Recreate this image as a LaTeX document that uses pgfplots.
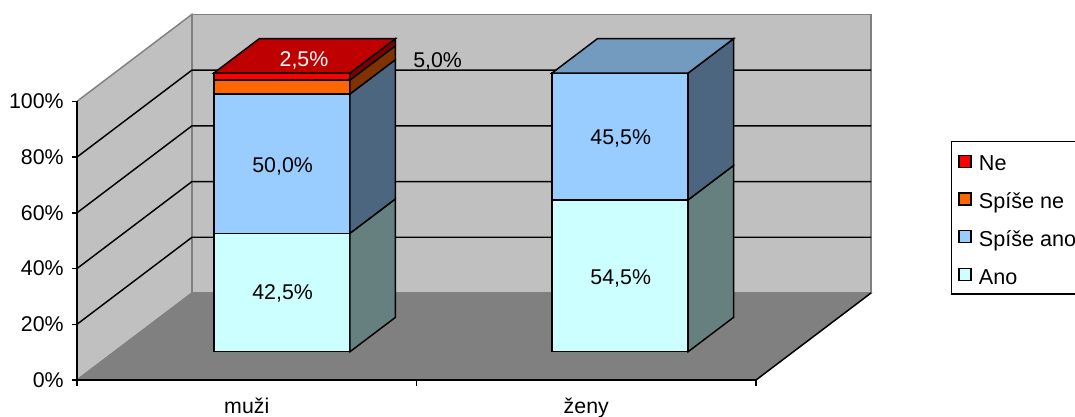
\documentclass[border=0pt]{standalone}
\usepackage{pgfplots}
\pgfplotsset{compat=1.18}
\usepackage{fontspec}
\setmainfont{Liberation Sans}

\definecolor{wall}{HTML}{C0C0C0}
\definecolor{floorc}{HTML}{808080}
\definecolor{anoF}{HTML}{CCFFFF}
\definecolor{anoS}{HTML}{668080}
\definecolor{sanoF}{HTML}{99CCFF}
\definecolor{sanoS}{HTML}{4D6680}
\definecolor{sanoT}{HTML}{739ABF}
\definecolor{sneF}{HTML}{FF6600}
\definecolor{sneS}{HTML}{803300}
\definecolor{neF}{HTML}{FF0000}
\definecolor{neS}{HTML}{800000}
\definecolor{neT}{HTML}{BF0000}

% one stacked segment: x from, x to, z from, z to, front colour, side colour
\newcommand{\barseg}[6]{%
  \addplot3[forget plot,fill=#5,draw=black,line width=1.1pt,line join=miter] coordinates {(#1,0.325,#3)(#2,0.325,#3)(#2,0.325,#4)(#1,0.325,#4)} --cycle;
  \addplot3[forget plot,fill=#6,draw=black,line width=1.1pt,line join=miter] coordinates {(#2,0.325,#3)(#2,0.72,#3)(#2,0.72,#4)(#2,0.325,#4)} --cycle;
}
% lid of a stack: x from, x to, z, colour
\newcommand{\bartop}[4]{%
  \addplot3[forget plot,fill=#4,draw=black,line width=1.1pt,line join=miter] coordinates {(#1,0.325,#3)(#2,0.325,#3)(#2,0.72,#3)(#1,0.72,#3)} --cycle;
}
% gridline running along both walls
\newcommand{\gridz}[1]{%
  \addplot3[forget plot,black,line width=1.1pt] coordinates {(0,0,#1)(0,1,#1)(2,1,#1)};
}

\begin{document}
\begin{tikzpicture}
\path[use as bounding box] (0,0) rectangle (806.25pt,312.75pt);
\begin{axis}[
  at={(57.75pt,27.75pt)}, anchor=origin,
  x={(254.625pt,0pt)}, y={(86.25pt,65.25pt)}, z={(0pt,2.09pt)},
  xmin=0, xmax=2, ymin=0, ymax=1, zmin=0, zmax=100,
  clip=false,
  axis line style={draw=none},
  tick style={draw=none},
  major tick length=0pt,
  font=\fontsize{16pt}{18pt}\selectfont,
  xtick={0.5,1.5}, xticklabels={muži,ženy},
  ytick=\empty,
  ztick={0,20,40,60,80,100},
  zticklabel={\pgfmathprintnumber{\tick}\%},
  z tick label style={anchor=east,xshift=-6.5pt},
  x tick label style={anchor=base,yshift=-25pt},
  /pgf/number format/assume math mode=true,
  xticklabel pos=lower,
  legend cell align=left,
  legend style={at={(axis cs:2.574,0,85.8)},anchor=north west,
    draw=black,line width=1.1pt,fill=white,
    font=\fontsize{16.2pt}{18pt}\selectfont,
    inner xsep=5pt,inner ysep=4pt,
    row sep=6.9pt,column sep=3.5pt,
    nodes={text height=15.9pt}},
  legend image code/.code={%
    \draw[#1,draw=black,line width=1pt] (0pt,-4.5pt) rectangle (9pt,4.5pt);},
]
% room: left wall, back wall, floor
\addplot3[forget plot,fill=wall,draw=floorc,line width=1.1pt] coordinates {(0,0,0)(0,1,0)(0,1,100)(0,0,100)} --cycle;
\addplot3[forget plot,fill=wall,draw=floorc,line width=1.1pt] coordinates {(0,1,0)(2,1,0)(2,1,100)(0,1,100)} --cycle;
\addplot3[forget plot,fill=floorc,draw=floorc,line width=0.8pt] coordinates {(0,0,0)(2,0,0)(2,1,0)(0,1,0)} --cycle;
\gridz{20}\gridz{40}\gridz{60}\gridz{80}
% axis lines and tick marks
\addplot3[forget plot,black,line width=1.1pt] coordinates {(0,0,0)(0,0,100)};
\addplot3[forget plot,black,line width=1.1pt] coordinates {(0,0,0)(2,0,0)};
\addplot3[forget plot,black,line width=1.1pt] coordinates {(2,0,0)(2,1,0)};
\addplot3[forget plot,black,line width=1.1pt] coordinates {(-0.016,0,0)(0,0,0)};
\addplot3[forget plot,black,line width=1.1pt] coordinates {(-0.016,0,20)(0,0,20)};
\addplot3[forget plot,black,line width=1.1pt] coordinates {(-0.016,0,40)(0,0,40)};
\addplot3[forget plot,black,line width=1.1pt] coordinates {(-0.016,0,60)(0,0,60)};
\addplot3[forget plot,black,line width=1.1pt] coordinates {(-0.016,0,80)(0,0,80)};
\addplot3[forget plot,black,line width=1.1pt] coordinates {(-0.016,0,100)(0,0,100)};
\addplot3[forget plot,black,line width=1.1pt] coordinates {(0,0,0)(0,0,-2)};
\addplot3[forget plot,black,line width=1.1pt] coordinates {(1,0,0)(1,0,-2)};
\addplot3[forget plot,black,line width=1.1pt] coordinates {(2,0,0)(2,0,-2)};
% muži: Ano 42.5, Spíše ano 50.0, Spíše ne 5.0, Ne 2.5
\barseg{0.293}{0.694}{0}{42.5}{anoF}{anoS}
\barseg{0.293}{0.694}{42.5}{92.5}{sanoF}{sanoS}
\barseg{0.293}{0.694}{92.5}{97.5}{sneF}{sneS}
\barseg{0.293}{0.694}{97.5}{100}{neF}{neS}
\bartop{0.293}{0.694}{100}{neT}
% ženy: Ano 54.5, Spíše ano 45.5
\barseg{1.289}{1.69}{0}{54.5}{anoF}{anoS}
\barseg{1.289}{1.69}{54.5}{100}{sanoF}{sanoS}
\bartop{1.289}{1.69}{100}{sanoT}
% value labels
\node[yshift=-0.75pt] at (axis cs:0.4955,0.325,21.25) {42,5\%};
\node[yshift=-2pt] at (axis cs:0.4955,0.325,67.5) {50,0\%};
\node[yshift=-2pt] at (axis cs:1.4915,0.325,27.25) {54,5\%};
\node[yshift=-1.5pt] at (axis cs:1.4915,0.325,77.25) {45,5\%};
\node[white,yshift=-0.75pt] at (axis cs:0.505,0.483,100) {2,5\%};
\node[yshift=-0.75pt] at (axis cs:0.903,0.47,100) {5,0\%};
% legend, top row first
\addlegendimage{fill=neF}\addlegendentry{Ne}
\addlegendimage{fill=sneF}\addlegendentry{Spíše ne}
\addlegendimage{fill=sanoF}\addlegendentry{Spíše ano}
\addlegendimage{fill=anoF}\addlegendentry{Ano}
\end{axis}
\end{tikzpicture}
\end{document}
